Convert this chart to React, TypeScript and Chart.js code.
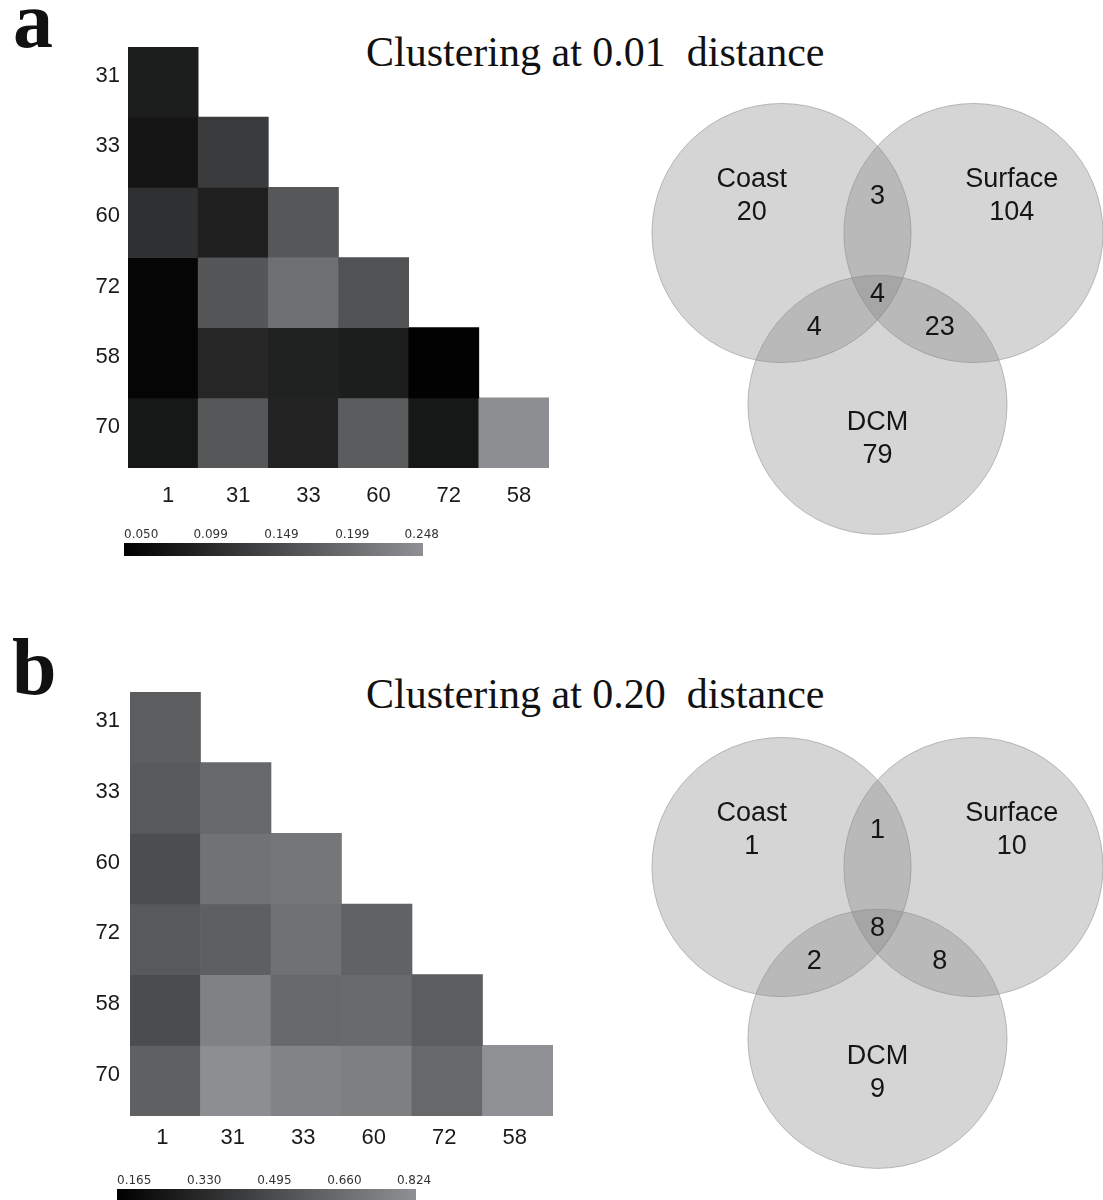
import React, { useEffect, useRef } from 'react';
import { Chart, registerables } from 'chart.js';

Chart.register(...registerables);

// ---------- DATA ----------
const colLabels = ['1', '31', '33', '60', '72', '58'];
const rowLabels = ['31', '33', '60', '72', '58', '70'];

// lower-triangular distance matrices (row i has i+1 values)
const distA: number[][] = [
  [0.092],
  [0.080, 0.136],
  [0.120, 0.096, 0.178],
  [0.057, 0.176, 0.213, 0.170],
  [0.057, 0.106, 0.098, 0.092, 0.053],
  [0.083, 0.178, 0.102, 0.185, 0.083, 0.258],
];
const distB: number[][] = [
  [0.621],
  [0.601, 0.671],
  [0.542, 0.720, 0.740],
  [0.601, 0.631, 0.715, 0.646],
  [0.537, 0.795, 0.671, 0.685, 0.621],
  [0.636, 0.860, 0.805, 0.785, 0.671, 0.869],
];

const barTicksA = [0.050, 0.099, 0.149, 0.199, 0.248];
const barMinA = 0.050;
const barMaxA = 0.261;
const barTicksB = [0.165, 0.330, 0.495, 0.660, 0.824];
const barMinB = 0.165;
const barMaxB = 0.869;

const titleA = 'Clustering at 0.01\u00a0 distance';
const titleB = 'Clustering at 0.20\u00a0 distance';

// Venn sets: Coast, Surface, DCM (layout in venn units)
const vennSets = ['Coast', 'Surface', 'DCM'];
const vennX = [-1, 1, 0];
const vennY = [0, 0, -1.79];
const vennR = 1.35;

// regions: Coast only, Surface only, DCM only, C∩S, C∩D, S∩D, C∩S∩D
const regionCountsA = [20, 104, 79, 3, 4, 23, 4];
const regionCountsB = [1, 10, 9, 1, 2, 8, 8];
const regionNames = ['Coast', 'Surface', 'DCM', '', '', '', ''];
const regionLabelX = [-1.31, 1.40, 0, 0, -0.66, 0.65, 0];
const regionLabelY = [0.21, 0.21, -2.32, 0.375, -0.98, -0.98, -0.646];

// ---------- helpers ----------
const GRAY_END = [142, 144, 147];
function grayFor(t: number): string {
  const c = Math.max(0, Math.min(1, t));
  return `rgb(${Math.round(GRAY_END[0] * c)},${Math.round(GRAY_END[1] * c)},${Math.round(GRAY_END[2] * c)})`;
}

const SANS = '"Liberation Sans", Arial, sans-serif';
const SERIF = '"Liberation Serif", "Times New Roman", serif';

function useChart(make: (c: HTMLCanvasElement) => Chart) {
  const ref = useRef<HTMLCanvasElement | null>(null);
  useEffect(() => {
    if (!ref.current) return;
    const ch = make(ref.current);
    return () => ch.destroy();
  }, []);
  return ref;
}

type HeatProps = {
  dist: number[][]; vmin: number; vmax: number;
  left: number; top: number; width: number; height: number;
  padTop: number; padRight: number; yWidth: number; xHeight: number;
  xPad: number; xOffset: number; yPad: number;
};

function Heatmap(p: HeatProps) {
  const ref = useChart((canvas) => {
    const n = rowLabels.length;
    const datasets = rowLabels.map((rl, i) => ({
      label: rl,
      data: colLabels.map((_, j) => (j <= i ? [n - 1 - i, n - i] : null)),
      backgroundColor: colLabels.map((_, j) =>
        j <= i ? grayFor((p.dist[i][j] - p.vmin) / (p.vmax - p.vmin)) : 'rgba(0,0,0,0)'
      ),
      borderWidth: 0,
      barPercentage: 1,
      categoryPercentage: 1,
    }));
    return new Chart(canvas, {
      type: 'bar',
      data: { labels: colLabels, datasets: datasets as any },
      options: {
        animation: false,
        responsive: false,
        events: [],
        layout: { padding: { top: p.padTop, right: p.padRight, left: 0, bottom: 0 } },
        plugins: { legend: { display: false }, tooltip: { enabled: false } },
        scales: {
          x: {
            stacked: true,
            grid: { display: false, drawTicks: false },
            border: { display: false },
            ticks: {
              padding: p.xPad,
              labelOffset: p.xOffset,
              color: '#1a1a1a',
              font: { family: SANS, size: 22 },
              maxRotation: 0,
            },
            afterFit: (s: any) => { s.height = p.xHeight; s.paddingLeft = 0; s.paddingRight = 0; },
          },
          y: {
            type: 'linear',
            min: 0,
            max: n,
            grid: { display: false, drawTicks: false },
            border: { display: false },
            afterBuildTicks: (s: any) => {
              s.ticks = rowLabels.map((_, i) => ({ value: i + 0.5 }));
            },
            ticks: {
              padding: p.yPad,
              labelOffset: -6,
              color: '#1a1a1a',
              font: { family: SANS, size: 22 },
              callback: (v: any) => rowLabels[n - 1 - Math.floor(Number(v))],
            },
            afterFit: (s: any) => { s.width = p.yWidth; s.paddingTop = 0; s.paddingBottom = 0; },
          },
        },
      },
    });
  });
  return (
    <canvas ref={ref} width={p.width} height={p.height}
      style={{ position: 'absolute', left: p.left, top: p.top, width: p.width, height: p.height }} />
  );
}

type BarProps = {
  ticks: number[]; vmin: number; vmax: number;
  left: number; top: number; width: number; height: number;
  padLeft: number; padRight: number; padBottom: number; axisHeight: number;
};

function ColorBar(p: BarProps) {
  const ref = useChart((canvas) => {
    return new Chart(canvas, {
      type: 'bar',
      data: {
        labels: [''],
        datasets: [{
          data: [[p.vmin, p.vmax]] as any,
          borderWidth: 0,
          barPercentage: 1,
          categoryPercentage: 1,
          backgroundColor: (ctx: any) => {
            const chart = ctx.chart;
            const xs = chart.scales.x;
            if (!chart.chartArea || !xs) return '#555';
            const g = chart.ctx.createLinearGradient(
              xs.getPixelForValue(p.vmin), 0, xs.getPixelForValue(p.vmax), 0);
            g.addColorStop(0, grayFor(0));
            g.addColorStop(1, grayFor(1));
            return g;
          },
        }],
      },
      options: {
        indexAxis: 'y',
        animation: false,
        responsive: false,
        events: [],
        layout: { padding: { left: p.padLeft, right: p.padRight, top: 0, bottom: p.padBottom } },
        plugins: { legend: { display: false }, tooltip: { enabled: false } },
        scales: {
          x: {
            type: 'linear',
            position: 'top',
            min: p.vmin,
            max: p.vmax,
            grid: { display: false, drawTicks: false },
            border: { display: false },
            afterBuildTicks: (s: any) => { s.ticks = p.ticks.map((v) => ({ value: v })); },
            ticks: {
              align: 'start',
              padding: 1,
              color: '#333',
              font: { family: '"DejaVu Sans", sans-serif', size: 12 },
              maxRotation: 0,
              autoSkip: false,
              callback: (v: any) => Number(v).toFixed(3),
            },
            afterFit: (s: any) => { s.height = p.axisHeight; },
          },
          y: { display: false },
        },
      },
    });
  });
  return (
    <canvas ref={ref} width={p.width} height={p.height}
      style={{ position: 'absolute', left: p.left, top: p.top, width: p.width, height: p.height }} />
  );
}

type VennProps = { counts: number[]; left: number; top: number; width: number; height: number };

function Venn(p: VennProps) {
  const ref = useChart((canvas) => {
    const labelPlugin = {
      id: 'vennLabels',
      afterDatasetsDraw(chart: any) {
        const { ctx, scales } = chart;
        ctx.save();
        ctx.fillStyle = '#151515';
        ctx.textAlign = 'center';
        ctx.textBaseline = 'middle';
        ctx.font = `27px ${SANS}`;
        p.counts.forEach((c, i) => {
          const x = scales.x.getPixelForValue(regionLabelX[i]);
          const y = scales.y.getPixelForValue(regionLabelY[i]);
          ctx.fillText(String(c), x, y);
          if (regionNames[i]) ctx.fillText(regionNames[i], x, y - 33);
        });
        ctx.restore();
      },
    };
    return new Chart(canvas, {
      type: 'scatter',
      data: {
        datasets: [{
          label: 'sets',
          data: vennSets.map((_, i) => ({ x: vennX[i], y: vennY[i] })),
          backgroundColor: 'rgba(126,128,132,0.33)',
          borderColor: 'rgba(140,140,140,0.55)',
          borderWidth: 1,
          pointRadius: (ctx: any) => {
            const xs = ctx.chart.scales.x;
            if (!xs) return 100;
            return Math.abs(xs.getPixelForValue(vennR) - xs.getPixelForValue(0));
          },
        }],
      },
      options: {
        animation: false,
        responsive: false,
        events: [],
        layout: { padding: 0 },
        plugins: { legend: { display: false }, tooltip: { enabled: false } },
        scales: {
          x: { type: 'linear', min: -2.683, max: 2.35, display: false },
          y: { type: 'linear', min: -3.25, max: 1.49, display: false },
        },
      },
      plugins: [labelPlugin],
    });
  });
  return (
    <canvas ref={ref} width={p.width} height={p.height}
      style={{ position: 'absolute', left: p.left, top: p.top, width: p.width, height: p.height }} />
  );
}

function Text({ text, left, top, size, bold }: { text: string; left: number; top: number; size: number; bold?: boolean }) {
  return (
    <div style={{
      position: 'absolute', left, top, fontFamily: SERIF, fontSize: size, lineHeight: 1,
      fontWeight: bold ? 'bold' : 'normal', color: '#111', whiteSpace: 'pre',
    }}>{text}</div>
  );
}

export default function App() {
  return (
    <div style={{ position: 'absolute', left: 0, top: 0, width: 1103, height: 1200, background: '#fff', overflow: 'hidden' }}>
      <Text text="a" left={13} top={-20} size={80} bold />
      <Text text={titleA} left={366} top={31} size={42} />
      <Heatmap dist={distA} vmin={barMinA} vmax={barMaxA}
        left={60} top={37} width={500} height={470}
        padTop={10} padRight={11} yWidth={68} xHeight={39}
        xPad={15} xOffset={5} yPad={8} />
      <ColorBar ticks={barTicksA} vmin={barMinA} vmax={barMaxA}
        left={110} top={515} width={340} height={43}
        padLeft={14} padRight={27} padBottom={2} axisHeight={28} />
      <Venn counts={regionCountsA} left={620} top={90} width={483} height={455} />

      <Text text="b" left={12} top={627} size={80} bold />
      <Text text={titleB} left={366} top={673} size={42} />
      <Heatmap dist={distB} vmin={barMinB} vmax={barMaxB}
        left={62} top={682} width={500} height={474}
        padTop={10} padRight={9} yWidth={68} xHeight={40}
        xPad={9} xOffset={-3} yPad={10} />
      <ColorBar ticks={barTicksB} vmin={barMinB} vmax={barMaxB}
        left={103} top={1163} width={340} height={37}
        padLeft={14} padRight={27} padBottom={0} axisHeight={26} />
      <Venn counts={regionCountsB} left={620} top={724} width={483} height={455} />
    </div>
  );
}
